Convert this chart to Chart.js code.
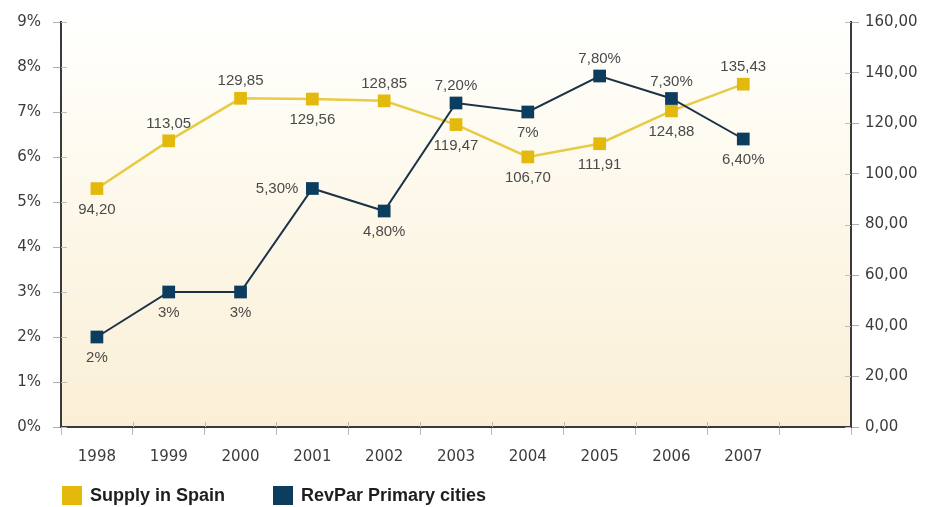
<!DOCTYPE html>
<html>
<head>
<meta charset="utf-8">
<script src="https://cdn.jsdelivr.net/npm/chart.js@4/dist/chart.umd.min.js"></script>
<style>
  html, body { margin: 0; padding: 0; background: #ffffff; }
  #wrap { width: 929px; height: 507px; position: relative; }
</style>
</head>
<body>
<div id="wrap"><canvas id="chart" width="929" height="507"></canvas></div>
<script>
// Years on the category axis (one empty slot is left after the last year)
const years = ['1998', '1999', '2000', '2001', '2002', '2003', '2004', '2005', '2006', '2007'];

// Hotel supply in Spain (right axis)
const supplySpain = [94.20, 113.05, 129.85, 129.56, 128.85, 119.47, 106.70, 111.91, 124.88, 135.43];

// RevPar growth in primary cities, in % (left axis)
const revparPrimary = [2, 3, 3, 5.30, 4.80, 7.20, 7, 7.80, 7.30, 6.40];

// Left and right axis ranges
const leftTicks = { min: 0, max: 9, step: 1 };
const rightTicks = { min: 0, max: 160, step: 20 };

// Where each value label sits relative to its point
const supplyLabelSide = ['below', 'above', 'above', 'below', 'above', 'below', 'below', 'below', 'below', 'above'];
const revparLabelSide = ['below', 'below', 'below', 'left', 'below', 'above', 'below', 'above', 'above', 'below'];

const GOLD = '#e4b90e';
const GOLD_LINE = '#e8cb45';
const NAVY = '#0c3d5f';
const NAVY_LINE = '#1b3347';

const fmtSupply = v => v.toFixed(2).replace('.', ',');
const fmtRevpar = v => (Number.isInteger(v) ? String(v) : v.toFixed(2).replace('.', ',')) + '%';

// Soft cream gradient behind the plot area
const plotBackground = {
  id: 'plotBackground',
  beforeDraw(chart) {
    const { ctx, chartArea: a } = chart;
    const g = ctx.createLinearGradient(0, a.top, 0, a.bottom);
    g.addColorStop(0, '#fffffd');
    g.addColorStop(0.45, '#fdf8ea');
    g.addColorStop(1, '#faefd6');
    ctx.save();
    ctx.fillStyle = g;
    ctx.fillRect(a.left, a.top, a.right - a.left, a.bottom - a.top);
    ctx.restore();
  }
};

// Short tick stubs that continue each tick mark across the axis line
const innerTicks = {
  id: 'innerTicks',
  afterDraw(chart) {
    const { ctx, chartArea: a, scales } = chart;
    ctx.save();
    ctx.strokeStyle = '#bdbdbd';
    ctx.lineWidth = 1;
    ctx.beginPath();
    scales.y.ticks.forEach((t, i) => {
      const y = Math.round(scales.y.getPixelForTick(i)) + 0.5;
      ctx.moveTo(a.left, y); ctx.lineTo(a.left + 6, y);
    });
    scales.y1.ticks.forEach((t, i) => {
      const y = Math.round(scales.y1.getPixelForTick(i)) + 0.5;
      ctx.moveTo(a.right - 6, y); ctx.lineTo(a.right, y);
    });
    const n = chart.data.labels.length;
    const step = (a.right - a.left) / n;
    for (let i = 1; i < n; i++) {
      const x = Math.round(a.left + i * step) + 0.5;
      ctx.moveTo(x, a.bottom - 5); ctx.lineTo(x, a.bottom);
    }
    ctx.stroke();
    ctx.restore();
  }
};

// Value labels next to every point
const valueLabels = {
  id: 'valueLabels',
  afterDatasetsDraw(chart) {
    const { ctx } = chart;
    ctx.save();
    ctx.font = '15px "Liberation Sans", Arial, sans-serif';
    ctx.fillStyle = '#4a4a4a';
    ctx.textBaseline = 'middle';
    chart.data.datasets.forEach((ds, i) => {
      const meta = chart.getDatasetMeta(i);
      const sides = ds.labelSides;
      meta.data.forEach((pt, j) => {
        const text = ds.fmt(ds.data[j]);
        const side = sides[j];
        let x = pt.x, y = pt.y;
        ctx.textAlign = 'center';
        if (side === 'above') y -= 17;
        else if (side === 'below') y += 21;
        else if (side === 'left') { ctx.textAlign = 'right'; x -= 14; }
        ctx.fillText(text, x, y);
      });
    });
    ctx.restore();
  }
};

// Legend row under the axis
const bottomLegend = {
  id: 'bottomLegend',
  afterDraw(chart) {
    const { ctx } = chart;
    const items = [
      { text: chart.data.datasets[0].label, color: chart.data.datasets[0].pointBackgroundColor, x: 62 },
      { text: chart.data.datasets[1].label, color: chart.data.datasets[1].pointBackgroundColor, x: 273 }
    ];
    ctx.save();
    ctx.font = 'bold 18px "Liberation Sans", Arial, sans-serif';
    ctx.textBaseline = 'middle';
    ctx.textAlign = 'left';
    items.forEach(it => {
      ctx.fillStyle = it.color;
      ctx.fillRect(it.x, 486, 20, 19);
      ctx.fillStyle = '#1e1e1e';
      ctx.fillText(it.text, it.x + 28, 496);
    });
    ctx.restore();
  }
};

const tickFont = { family: '"DejaVu Sans", Verdana, sans-serif', size: 15 };

new Chart(document.getElementById('chart'), {
  type: 'line',
  data: {
    labels: [...years, ''],
    datasets: [
      {
        label: 'Supply in Spain',
        data: supplySpain,
        yAxisID: 'y1',
        borderColor: GOLD_LINE,
        borderWidth: 2.5,
        pointStyle: 'rect',
        pointRadius: 9,
        pointHoverRadius: 9,
        pointBackgroundColor: GOLD,
        pointBorderColor: GOLD,
        pointBorderWidth: 0,
        tension: 0,
        order: 1,
        labelSides: supplyLabelSide,
        fmt: fmtSupply
      },
      {
        label: 'RevPar Primary cities',
        data: revparPrimary,
        yAxisID: 'y',
        borderColor: NAVY_LINE,
        borderWidth: 2,
        pointStyle: 'rect',
        pointRadius: 9,
        pointHoverRadius: 9,
        pointBackgroundColor: NAVY,
        pointBorderColor: NAVY,
        pointBorderWidth: 0,
        tension: 0,
        order: 0,
        labelSides: revparLabelSide,
        fmt: fmtRevpar
      }
    ]
  },
  options: {
    responsive: false,
    animation: false,
    layout: { padding: { top: 22, bottom: 40, left: 0, right: 0 } },
    plugins: {
      legend: { display: false },
      tooltip: { enabled: false }
    },
    scales: {
      x: {
        offset: true,
        grid: { offset: true, drawOnChartArea: false, drawTicks: true, tickLength: 8, color: '#b8b8b8' },
        border: { color: '#3a3a3a', width: 2 },
        ticks: { color: '#3c3c3c', font: tickFont, padding: 13, autoSkip: false, maxRotation: 0 },
        afterFit(s) { s.height = 40; }
      },
      y: {
        position: 'left',
        min: leftTicks.min,
        max: leftTicks.max,
        grid: { drawOnChartArea: false, tickLength: 8, color: '#b0b0b0' },
        border: { color: '#3a3a3a', width: 2 },
        ticks: { stepSize: leftTicks.step, color: '#3c3c3c', font: tickFont, padding: 12, callback: v => v + '%' },
        afterFit(s) { s.width = 61; }
      },
      y1: {
        position: 'right',
        min: rightTicks.min,
        max: rightTicks.max,
        grid: { drawOnChartArea: false, tickLength: 8, color: '#b0b0b0' },
        border: { color: '#3a3a3a', width: 2 },
        ticks: { stepSize: rightTicks.step, color: '#3c3c3c', font: tickFont, padding: 6, callback: v => v.toFixed(2).replace('.', ',') },
        afterFit(s) { s.width = 78; }
      }
    }
  },
  plugins: [plotBackground, innerTicks, valueLabels, bottomLegend]
});
</script>
</body>
</html>
